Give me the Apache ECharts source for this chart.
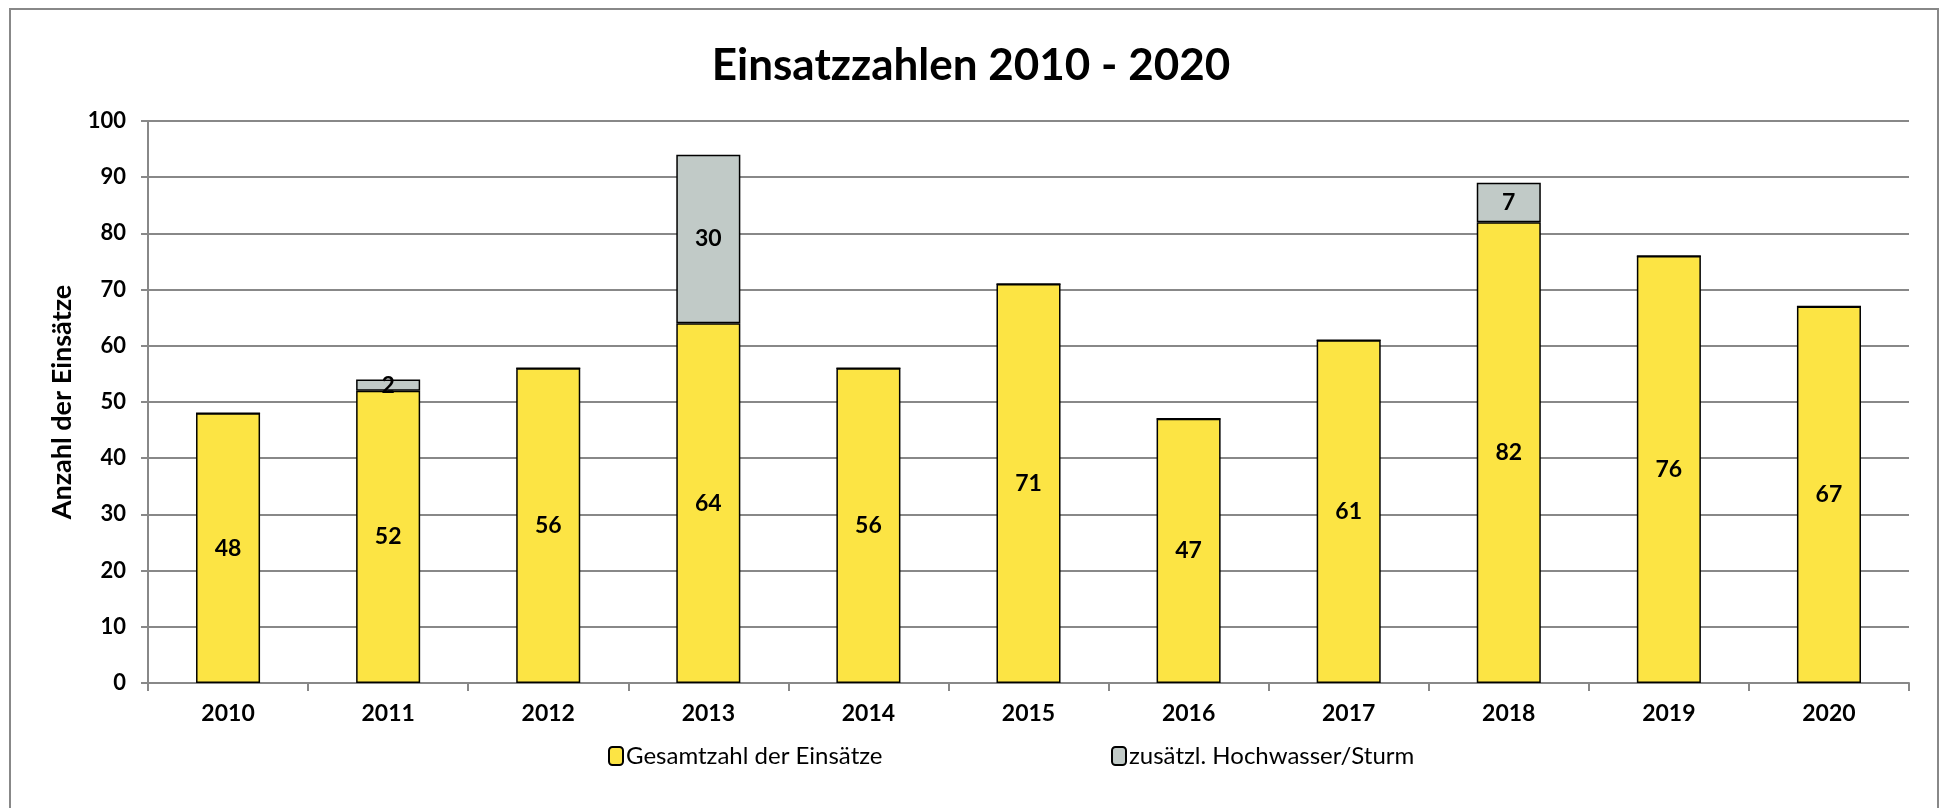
<!DOCTYPE html>
<html>
<head>
<meta charset="utf-8">
<script src="https://cdn.jsdelivr.net/npm/echarts@6/dist/echarts.min.js"></script>
<style>
  html, body { margin: 0; padding: 0; background: #fff; }
  #chart { width: 1942px; height: 808px; }
</style>
</head>
<body>
<div id="chart"></div>
<script>
const years = ['2010', '2011', '2012', '2013', '2014', '2015', '2016', '2017', '2018', '2019', '2020']
const gesamt = [48, 52, 56, 64, 56, 71, 47, 61, 82, 76, 67]
const hochwasser = [0, 2, 0, 30, 0, 0, 0, 0, 7, 0, 0]
const yTicks = [0, 10, 20, 30, 40, 50, 60, 70, 80, 90, 100]

const font = 'Lato, "Open Sans", sans-serif'
const chart = echarts.init(document.getElementById('chart'))

const legendText = { fontSize: 24, color: '#000', fontFamily: font, padding: [0, 0, 0, -2] }

const option = {
  animation: false,
  backgroundColor: '#fff',
  textStyle: { fontFamily: font },
  title: {
    text: 'Einsatzzahlen 2010 - 2020',
    left: 'center',
    top: 39,
    textStyle: { fontSize: 44, fontWeight: 'bold', color: '#000', fontFamily: font }
  },
  graphic: [
    {
      type: 'rect',
      shape: { x: 10, y: 9, width: 1928, height: 820 },
      style: { fill: 'none', stroke: '#888', lineWidth: 2 },
      silent: true
    }
  ],
  legend: [
    {
      data: ['Gesamtzahl der Einsätze'],
      left: 603,
      top: 739,
      itemWidth: 14,
      itemHeight: 18,
      textStyle: legendText
    },
    {
      data: ['zusätzl. Hochwasser/Sturm'],
      left: 1106,
      top: 739,
      itemWidth: 14,
      itemHeight: 18,
      textStyle: legendText
    }
  ],
  grid: { left: 148, right: 33, top: 121, bottom: 125 },
  xAxis: {
    type: 'category',
    data: years,
    axisLine: { lineStyle: { color: '#888', width: 2 } },
    axisTick: { show: true, length: 8, lineStyle: { color: '#888', width: 2 } },
    axisLabel: { fontSize: 23, fontWeight: 'bold', color: '#000', margin: 19 }
  },
  yAxis: {
    type: 'value',
    min: yTicks[0],
    max: yTicks[yTicks.length - 1],
    interval: 10,
    name: 'Anzahl der Einsätze',
    nameLocation: 'middle',
    nameGap: 72,
    nameTextStyle: { fontSize: 27, fontWeight: 'bold', color: '#000' },
    axisLine: { show: true, lineStyle: { color: '#888', width: 2 } },
    axisTick: { show: true, length: 7, lineStyle: { color: '#888', width: 2 } },
    axisLabel: { fontSize: 22, fontWeight: 'bold', color: '#000', margin: 22 },
    splitLine: { lineStyle: { color: '#888', width: 2 } }
  },
  series: [
    {
      name: 'Gesamtzahl der Einsätze',
      type: 'bar',
      stack: 'total',
      data: gesamt,
      barWidth: '40%',
      itemStyle: { color: '#FCE444', borderColor: '#000', borderWidth: 1.5 },
      label: {
        show: true,
        position: 'inside',
        fontSize: 23,
        fontWeight: 'bold',
        color: '#000',
        fontFamily: font
      }
    },
    {
      name: 'zusätzl. Hochwasser/Sturm',
      type: 'bar',
      stack: 'total',
      data: hochwasser,
      barWidth: '40%',
      itemStyle: { color: '#C1CAC7', borderColor: '#000', borderWidth: 1.5 },
      label: {
        show: true,
        position: 'inside',
        fontSize: 23,
        fontWeight: 'bold',
        color: '#000',
        fontFamily: font,
        formatter: p => (p.value > 0 ? p.value : '')
      }
    }
  ]
}

chart.setOption(option)
</script>
</body>
</html>
